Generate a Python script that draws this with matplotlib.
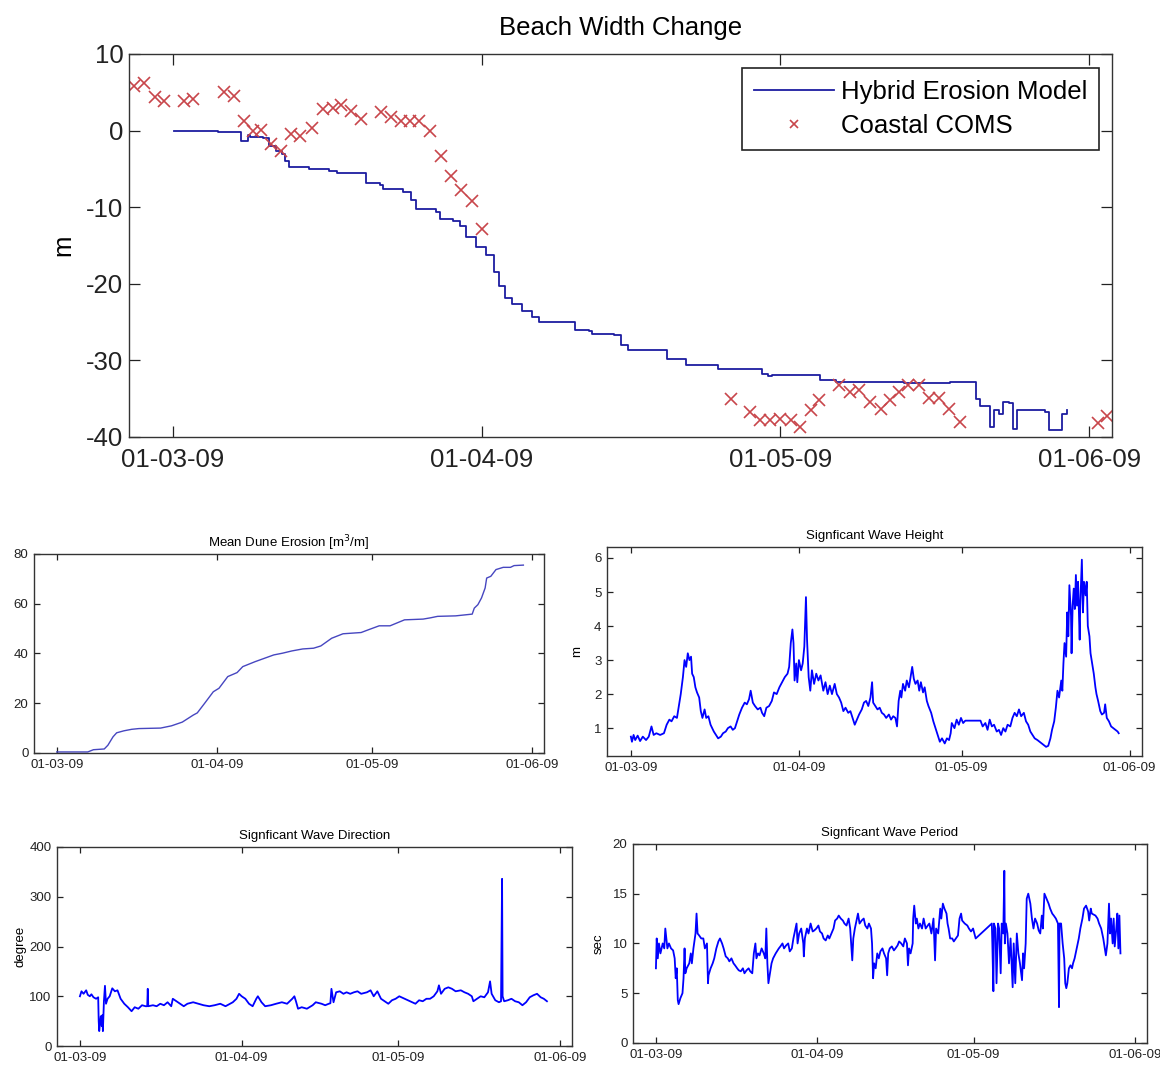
import numpy as np
import matplotlib.pyplot as plt
import matplotlib.dates as mdates
from datetime import datetime

plt.rcParams['axes.unicode_minus'] = False
plt.rcParams['font.family'] = ['Liberation Sans', 'DejaVu Sans']

# all x values are days since 01-03-09
model_day = [0.1, 4.4, 4.5, 6.4, 6.8, 7.3, 7.5, 7.8, 9.1, 9.7, 10.4, 11.0, 11.3, 11.7, 13.7,
             15.7, 16.5, 19.3, 19.4, 20.8, 21.1, 23.1, 23.9, 24.4, 26.4, 26.8, 28.1, 28.8,
             29.4, 30.4, 31.4, 32.3, 32.8, 33.4, 34.1, 35.1, 36.1, 36.8, 39.8, 40.4, 41.8,
             42.1, 44.3, 45.0, 45.7, 49.3, 49.6, 51.5, 53.7, 54.7, 58.9, 59.2, 59.8, 60.2,
             64.4, 65.0, 66.6, 73.0, 73.4, 77.4, 78.0, 80.4, 80.6, 81.0, 82.1, 82.5, 83.0,
             83.4, 84.0, 84.4, 84.6, 84.8, 87.1, 87.6, 88.0, 89.1, 89.3, 89.8]
model_width = [0, 0, -0.2, -0.2, -1.3, -1.3, -0.6, -0.9, -1.0, -2.0, -2.6, -3.0, -4.0, -4.8,
               -5.0, -5.3, -5.6, -5.6, -6.8, -7.1, -7.6, -8.0, -9.0, -10.2, -10.6, -11.5,
               -11.8, -12.5, -13.9, -15.2, -16.3, -18.5, -20.3, -21.8, -22.6, -23.6, -24.4,
               -25.0, -25.0, -26.0, -26.2, -26.5, -26.7, -28.0, -28.6, -28.6, -29.8, -30.6,
               -30.6, -31.1, -31.1, -31.8, -32.0, -31.9, -31.9, -32.6, -32.8, -32.8, -33.0,
               -33.0, -32.8, -32.8, -35.0, -35.9, -38.7, -36.5, -37.0, -35.4, -35.6, -38.9,
               -38.9, -36.5, -36.5, -36.8, -39.1, -39.1, -37.0, -36.5]

coms_day = [-3.9, -2.9, -1.8, -0.9, 1.1, 2.0, 5.1, 6.1, 7.1, 8.1, 8.9, 9.9, 10.9, 11.9, 12.8,
            14.0, 15.1, 16.1, 16.9, 17.9, 18.9, 20.9, 21.9, 22.9, 23.8, 24.7, 25.8, 26.9,
            27.9, 28.9, 30.0, 31.0, 56.0, 58.0, 59.0, 60.0, 61.0, 62.1, 63.0, 64.1, 64.9,
            66.9, 68.0, 68.9, 70.0, 71.1, 72.0, 72.9, 73.8, 74.9, 75.9, 76.9, 77.9, 79.0,
            92.9, 93.8]
coms_width = [5.8, 6.2, 4.4, 3.9, 3.9, 4.1, 5.0, 4.5, 1.3, -0.1, 0.1, -1.7, -2.7, -0.4, -0.7,
              0.3, 2.8, 2.9, 3.3, 2.6, 1.5, 2.4, 1.8, 1.3, 1.2, 1.2, 0.0, -3.3, -5.9, -7.8,
              -9.2, -12.8, -35.1, -36.7, -37.8, -37.8, -37.7, -37.8, -38.7, -36.5, -35.2,
              -33.2, -34.1, -33.9, -35.4, -36.4, -35.2, -34.1, -33.2, -33.2, -34.9, -34.9,
              -36.3, -38.0, -38.2, -37.3]

dune_day = [0.0, 6.0, 7.1, 9.2, 9.9, 10.9, 11.6, 13.0, 14.5, 15.9, 20.1, 22.2, 24.3, 26.4,
            27.2, 28.6, 30.3, 31.4, 33.1, 34.9, 36.0, 38.4, 42.0, 43.7, 45.5, 47.6, 49.7,
            51.1, 53.2, 55.4, 58.9, 60.3, 62.4, 64.5, 67.3, 70.9, 72.3, 73.7, 77.2, 80.4,
            80.8, 81.5, 82.2, 82.9, 83.2, 84.0, 85.0, 86.4, 87.8, 88.5, 90.3]
dune_vol = [0.4, 0.4, 1.3, 1.6, 3.1, 6.5, 8.1, 8.9, 9.5, 9.8, 10.0, 10.9, 12.4, 15.2, 16.1,
            19.9, 24.6, 26.0, 30.7, 32.3, 34.7, 36.7, 39.4, 40.1, 41.0, 41.8, 42.1, 43.0,
            46.1, 47.9, 48.4, 49.5, 51.1, 51.1, 53.5, 53.8, 54.3, 54.9, 55.1, 55.8, 58.2,
            59.6, 62.3, 66.3, 70.3, 71.0, 73.7, 74.6, 74.6, 75.3, 75.5]

hs_day = [0.0, 0.2, 0.5, 0.8, 1.25, 1.7, 2.2, 2.8, 3.3, 3.8, 4.2, 4.7, 5.4, 6.1, 6.6, 7.1,
          7.5, 8.0, 8.5, 8.9, 9.2, 9.6, 9.9, 10.2, 10.5, 10.8, 11.1, 11.3, 11.6, 11.9, 12.2,
          12.6, 12.9, 13.2, 13.6, 13.9, 14.3, 14.7, 15.3, 15.7, 16.1, 16.6, 17.0, 17.5,
          17.9, 18.4, 18.8, 19.2, 19.6, 20.0, 20.5, 21.0, 21.4, 21.8, 22.1, 22.5, 22.9,
          23.4, 23.9, 24.2, 24.6, 25.0, 25.5, 26.0, 26.4, 26.9, 27.4, 27.9, 28.4, 28.9,
          29.2, 29.5, 29.8, 30.0, 30.2, 30.5, 30.7, 31.0, 31.4, 31.7, 32.0, 32.3, 32.5,
          32.8, 33.1, 33.4, 33.8, 34.2, 34.6, 35.0, 35.5, 35.9, 36.3, 36.7, 37.1, 37.6,
          38.0, 38.4, 38.8, 39.2, 39.6, 40.1, 40.5, 40.9, 41.3, 41.7, 42.1, 42.6, 43.0,
          43.4, 43.8, 44.2, 44.5, 44.7, 45.1, 45.5, 45.9, 46.3, 46.7, 47.1, 47.6, 48.0,
          48.4, 48.8, 49.1, 49.4, 49.7, 49.9, 50.2, 50.6, 50.9, 51.3, 51.6, 51.9, 52.2,
          52.5, 52.9, 53.2, 53.5, 53.9, 54.2, 54.6, 54.9, 55.4, 55.8, 56.2, 56.6, 57.0,
          57.4, 57.9, 58.3, 58.7, 59.0, 59.2, 59.7, 60.1, 60.5, 60.9, 61.3, 61.7, 64.5,
          64.9, 65.4, 65.8, 66.2, 66.6, 67.0, 67.5, 67.9, 68.3, 68.7, 69.1, 69.5, 70.0,
          70.4, 70.8, 71.2, 71.6, 72.0, 72.5, 72.9, 73.3, 73.7, 74.1, 74.5, 75.0, 75.4,
          75.8, 76.2, 76.6, 77.0, 77.4, 77.7, 78.1, 78.4, 78.7, 79.0, 79.4, 79.6, 79.8,
          80.0, 80.3, 80.5, 80.7, 80.9, 81.2, 81.3, 81.5, 81.7, 81.9, 82.1, 82.3, 82.5,
          82.8, 82.9, 83.2, 83.4, 83.6, 83.9, 84.1, 84.3, 84.6, 84.8, 85.1, 85.4, 85.7,
          85.9, 86.2, 86.6, 86.9, 87.3, 87.5, 87.8, 88.2, 88.6, 89.0, 89.4, 89.8, 90.0]
hs = [0.75, 0.6, 0.8, 0.65, 0.78, 0.62, 0.75, 0.65, 0.75, 1.05, 0.8, 0.85, 0.8, 0.85, 1.1,
      1.25, 1.2, 1.35, 1.3, 1.7, 2.0, 2.5, 3.0, 2.8, 3.2, 3.0, 3.1, 2.6, 2.5, 2.2, 2.05,
      1.9, 1.5, 1.3, 1.55, 1.3, 1.35, 1.1, 0.9, 0.8, 0.7, 0.75, 0.85, 0.9, 1.0, 1.05, 0.95,
      1.0, 1.2, 1.4, 1.6, 1.75, 1.7, 1.85, 2.1, 1.75, 1.65, 1.55, 1.6, 1.45, 1.35, 1.6,
      1.65, 1.8, 2.05, 2.0, 2.2, 2.35, 2.5, 2.6, 2.8, 3.5, 3.9, 3.5, 2.4, 2.9, 2.35, 3.0,
      2.7, 2.9, 3.4, 4.85, 3.6, 2.5, 2.1, 2.7, 2.3, 2.6, 2.4, 2.55, 2.1, 2.35, 2.0, 2.25,
      2.0, 2.3, 2.0, 1.9, 1.75, 1.5, 1.6, 1.45, 1.5, 1.3, 1.1, 1.25, 1.4, 1.55, 1.75, 1.8,
      1.65, 1.9, 2.35, 1.75, 1.65, 1.55, 1.6, 1.45, 1.4, 1.3, 1.4, 1.25, 1.35, 1.3, 1.05,
      1.8, 2.1, 1.9, 2.3, 2.1, 2.4, 2.2, 2.5, 2.8, 2.45, 2.3, 2.4, 2.1, 2.35, 2.05, 2.2,
      1.8, 1.65, 1.45, 1.2, 1.0, 0.8, 0.6, 0.7, 0.55, 0.7, 0.65, 0.85, 1.15, 1.0, 1.25,
      1.1, 1.3, 1.15, 1.22, 1.22, 1.05, 1.15, 0.95, 1.25, 1.05, 1.1, 0.9, 0.95, 0.8, 1.0,
      0.9, 1.1, 1.05, 1.3, 1.45, 1.35, 1.55, 1.35, 1.45, 1.2, 1.1, 0.9, 0.8, 0.7, 0.65,
      0.6, 0.55, 0.5, 0.45, 0.48, 0.7, 0.95, 1.2, 1.6, 2.1, 1.9, 2.4, 2.1, 2.9, 3.5, 3.1,
      4.4, 3.7, 5.2, 4.3, 3.2, 4.6, 5.1, 4.5, 5.5, 4.6, 5.3, 3.6, 4.6, 5.95, 4.4, 5.3, 4.9,
      5.3, 4.0, 3.7, 3.2, 2.9, 2.6, 2.2, 2.0, 1.8, 1.5, 1.4, 1.45, 1.7, 1.3, 1.2, 1.05,
      1.0, 0.95, 0.9, 0.85]

dir_day = [0.0, 0.3, 0.7, 1.2, 1.5, 1.9, 2.2, 2.6, 3.1, 3.5, 3.6, 3.7, 4.0, 4.2, 4.3, 4.4,
           4.6, 4.8, 5.0, 5.3, 5.7, 6.2, 6.7, 7.2, 7.8, 8.5, 9.2, 9.9, 10.5, 11.2, 11.9,
           12.6, 12.9, 13.0, 13.1, 14.0, 14.7, 15.4, 16.1, 16.8, 17.5, 17.8, 18.5, 19.2,
           19.9, 20.6, 21.7, 22.7, 23.7, 24.8, 25.8, 26.9, 27.9, 29.3, 30.0, 30.5, 31.0,
           31.7, 32.4, 33.1, 33.8, 34.1, 34.8, 35.5, 36.6, 37.6, 38.7, 39.7, 40.7, 41.1,
           41.4, 41.8, 42.5, 43.5, 44.6, 45.2, 46.3, 47.0, 47.7, 48.0, 48.2, 48.6, 49.1,
           49.8, 50.5, 51.1, 51.8, 52.5, 53.2, 53.9, 55.0, 55.7, 56.3, 57.0, 57.7, 58.4,
           59.1, 59.8, 60.5, 61.2, 64.3, 65.0, 65.7, 66.4, 67.1, 67.8, 68.5, 68.8, 69.2,
           69.9, 70.6, 71.3, 72.0, 73.0, 73.7, 74.4, 75.1, 75.4, 76.1, 76.8, 77.5, 78.2,
           78.6, 78.9, 79.6, 80.3, 80.7, 80.8, 80.9, 81.0, 81.3, 82.0, 82.7, 83.4, 84.1,
           84.8, 85.5, 86.2, 86.9, 87.6, 88.3, 88.9, 89.5]
wdir = [100, 110, 105, 112, 103, 100, 104, 98, 95, 98, 50, 30, 60, 40, 62, 30, 90, 121, 85,
        95, 100, 116, 110, 112, 95, 85, 78, 70, 78, 75, 82, 80, 80, 115, 80, 82, 80, 85, 82,
        88, 80, 95, 90, 85, 80, 85, 88, 85, 82, 80, 82, 85, 80, 88, 95, 105, 100, 95, 85,
        80, 95, 100, 88, 80, 82, 85, 88, 85, 95, 100, 90, 75, 78, 75, 82, 88, 85, 82, 85,
        86, 115, 88, 108, 110, 105, 108, 105, 108, 110, 105, 108, 112, 100, 110, 95, 90,
        85, 92, 95, 100, 85, 92, 90, 95, 95, 100, 110, 122, 105, 115, 118, 115, 110, 112,
        108, 105, 100, 90, 95, 100, 98, 108, 130, 105, 92, 88, 90, 215, 336, 100, 90, 92,
        95, 90, 88, 82, 88, 98, 102, 105, 98, 95, 90]

tp_day = [0.0, 0.15, 0.36, 0.58, 0.87, 1.3, 1.6, 1.8, 2.2, 2.5, 2.9, 3.3, 3.6, 3.8, 4.0,
          4.2, 4.35, 4.7, 5.1, 5.3, 5.5, 5.65, 5.9, 6.4, 6.7, 6.9, 7.2, 7.6, 7.8, 8.0, 8.3,
          8.7, 9.1, 9.4, 9.8, 10.0, 10.1, 10.5, 10.9, 11.2, 11.6, 12.0, 12.3, 12.7, 13.0,
          13.4, 13.8, 14.1, 14.5, 14.9, 15.2, 15.6, 15.9, 16.3, 16.7, 17.0, 17.4, 17.8,
          18.1, 18.5, 18.8, 19.1, 19.3, 19.6, 19.9, 20.3, 20.7, 21.0, 21.2, 21.4, 21.6,
          21.9, 22.2, 22.5, 23.0, 23.6, 23.9, 24.3, 24.6, 25.0, 25.4, 25.7, 26.1, 26.4,
          26.8, 27.0, 27.2, 27.5, 27.9, 28.3, 28.4, 28.6, 29.0, 29.3, 29.7, 30.1, 30.4,
          30.8, 31.2, 31.5, 31.9, 32.2, 32.6, 33.0, 33.3, 33.7, 34.1, 34.4, 34.8, 35.1,
          35.5, 35.9, 36.2, 36.6, 37.0, 37.3, 37.7, 37.9, 38.2, 38.6, 38.8, 39.1, 39.5,
          39.9, 40.2, 40.6, 40.9, 41.3, 41.5, 41.7, 41.9, 42.2, 42.5, 42.8, 43.1, 43.5,
          43.8, 44.2, 44.4, 44.6, 44.9, 45.3, 45.7, 46.0, 46.4, 46.7, 47.1, 47.5, 47.8,
          48.2, 48.4, 48.6, 48.9, 49.3, 49.4, 49.6, 49.9, 50.1, 50.4, 50.7, 51.1, 51.4,
          51.8, 52.2, 52.5, 52.9, 53.3, 53.6, 53.8, 54.2, 54.6, 54.8, 55.1, 55.4, 55.8,
          56.0, 56.2, 56.5, 56.9, 57.2, 57.6, 58.0, 58.3, 58.6, 58.8, 59.3, 59.8, 60.1,
          60.5, 60.9, 61.4, 64.5, 64.6, 64.8, 64.9, 65.2, 65.4, 65.7, 65.9, 66.2, 66.4,
          66.7, 66.9, 67.0, 67.2, 67.5, 67.8, 68.1, 68.5, 68.7, 69.0, 69.3, 69.6, 69.9,
          70.3, 70.5, 70.7, 71.0, 71.2, 71.5, 71.9, 72.2, 72.5, 72.8, 73.2, 73.5, 73.8,
          74.1, 74.3, 74.6, 75.0, 75.4, 75.7, 76.1, 76.4, 76.8, 77.2, 77.4, 77.5, 77.8,
          78.1, 78.4, 78.6, 78.8, 79.0, 79.3, 79.6, 79.9, 80.1, 80.4, 80.8, 81.2, 81.5,
          81.9, 82.2, 82.6, 83.0, 83.2, 83.5, 83.7, 84.4, 84.8, 85.1, 85.5, 85.9, 86.2,
          86.4, 86.7, 87.0, 87.2, 87.4, 87.7, 87.9, 88.1, 88.4, 88.6, 88.8, 89.0, 89.2]
tp = [7.5, 10.5, 8.5, 10, 9, 10, 9.5, 11.5, 9.5, 10, 9.5, 9.3, 8.5, 6.5, 7.5, 4.3, 3.9,
      4.5, 5.0, 6.5, 9.5, 7, 7.5, 8, 9, 8, 9.5, 11, 13, 11, 10.8, 10.5, 10.5, 9.5, 10, 6,
      6.8, 7.5, 8, 8.5, 9.5, 10.2, 10.5, 10, 9.5, 8.7, 8.5, 8.2, 8.5, 8.0, 7.8, 7.5, 7.3,
      7.2, 7.5, 7.0, 7.3, 7.5, 7.2, 7.0, 9, 10, 8.5, 9, 8.8, 9.5, 9, 8.5, 11.5, 8, 6, 7,
      8, 8.5, 9.0, 9.5, 9.7, 10, 9.5, 9.8, 10, 9.2, 9.5, 10.5, 11.5, 12, 10, 11, 11.5, 10,
      8.7, 10.5, 11.5, 11, 12, 11.2, 11.3, 11.5, 11.8, 11.2, 11, 10.5, 10.3, 10.8, 10.5,
      11, 11.5, 12.3, 12.5, 12.8, 12.5, 12.3, 12, 11.8, 12.5, 11.5, 8.3, 10.5, 11.5, 12.5,
      13, 12, 12.3, 12.5, 11.8, 11.5, 12, 11.5, 10, 6.5, 8, 7.5, 9, 8.5, 9.2, 9.5, 9.0,
      8.5, 6.8, 9, 9.5, 9.7, 9.3, 9.5, 9.8, 10.2, 10, 9.7, 10.5, 10, 7.8, 9.5, 9, 10,
      12.5, 13.8, 12, 12.5, 11.5, 12, 11.5, 12.5, 11.5, 11.8, 12, 11, 12.5, 8.3, 11.5, 11,
      13.5, 12.5, 14, 13.5, 13, 12, 11.5, 10.5, 10.5, 10.2, 10.5, 10.8, 12.5, 13, 12.3,
      12, 11.8, 11.5, 11.2, 11.5, 10.5, 12, 10, 5.2, 12, 11.5, 6.0, 12, 11.5, 7, 12, 11,
      17.3, 10, 12, 11, 8, 10.5, 5.6, 10, 6, 11, 9, 8, 6.3, 9, 7.5, 10, 14.5, 15, 14,
      12.5, 11.5, 12.5, 12, 11.3, 11, 12.8, 11.5, 15, 14.5, 14, 13.5, 13, 12.8, 12.5, 12,
      3.6, 12, 12, 10, 8.5, 6, 5.5, 6, 7.5, 7.8, 7.5, 8, 8.5, 9.5, 10.5, 11.5, 12.5, 13.5,
      13.8, 13.2, 12.3, 13.5, 13, 12.8, 12.5, 12, 11.5, 10.5, 9.5, 8.8, 10, 14, 11, 12.5,
      10, 12.5, 9.7, 11.5, 13, 9.5, 12.8, 9]

tick_dates = [datetime(2009, 3, 1), datetime(2009, 4, 1), datetime(2009, 5, 1), datetime(2009, 6, 1)]

start = mdates.date2num(datetime(2009, 3, 1))


def to_num(days):
    return start + np.asarray(days, dtype=float)


def style(ax, yticks, ylim, fs, ticklen):
    ax.set_xlim(start - 4.4, start + 92 + 2.3)
    ax.set_xticks(mdates.date2num(tick_dates))
    ax.xaxis.set_major_formatter(mdates.DateFormatter('%d-%m-%y'))
    ax.set_yticks(yticks)
    ax.set_ylim(*ylim)
    ax.tick_params(direction='in', top=True, right=True, length=ticklen, width=0.9,
                   labelsize=fs, colors='#222222', pad=4)
    for s in ax.spines.values():
        s.set_color('#333333')
        s.set_linewidth(1.0)


fig = plt.figure(figsize=(11.6, 10.65), dpi=100)

big = 18.5

# top panel
ax = fig.add_axes([0.1112, 0.5897, 0.8474, 0.3596])
ax.plot(to_num(model_day), model_width, color='#1c1ca0', lw=1.3, drawstyle='steps-post',
        label='Hybrid Erosion Model')
ax.plot(to_num(coms_day), coms_width, ls='none', marker='x', ms=9, mew=1.2,
        color='#c8464b', label='Coastal COMS')
style(ax, [-40, -30, -20, -10, 0, 10], (-40, 10), big, 8)
ax.tick_params(axis='x', pad=8)
ax.set_title('Beach Width Change', fontsize=big, pad=14)
ax.set_ylabel('m', fontsize=big, labelpad=8)
leg = ax.legend(loc='upper right', bbox_to_anchor=(0.987, 0.963), borderaxespad=0,
                fancybox=False, edgecolor='#222222', framealpha=1, handlelength=3.1,
                handletextpad=0.3, borderpad=0.45, labelspacing=0.4, markerscale=0.7,
                fontsize=big)
leg.get_frame().set_linewidth(1.2)

small = 9.5

# mean dune erosion
ax = fig.add_axes([0.0293, 0.2930, 0.4397, 0.1869])
ax.plot(to_num(dune_day), dune_vol, color='#4646c0', lw=1.0)
style(ax, [0, 20, 40, 60, 80], (0, 80), small, 4)
ax.set_title('Mean Dune Erosion [m$^3$/m]', fontsize=small, pad=5)

# wave height
ax = fig.add_axes([0.5233, 0.2901, 0.4612, 0.1962])
ax.plot(to_num(hs_day), hs, color='#0000ff', lw=1.3)
style(ax, [1, 2, 3, 4, 5, 6], (0.18, 6.32), small, 4)
ax.set_title('Signficant Wave Height', fontsize=small, pad=6)
ax.set_ylabel('m', fontsize=small, labelpad=8)

# wave direction
ax = fig.add_axes([0.0491, 0.0178, 0.4440, 0.1869])
ax.plot(to_num(dir_day), wdir, color='#0000ff', lw=1.3)
style(ax, [0, 100, 200, 300, 400], (0, 400), small, 4)
ax.set_title('Signficant Wave Direction', fontsize=small, pad=6)
ax.set_ylabel('degree', fontsize=small, labelpad=2)

# wave period
ax = fig.add_axes([0.5457, 0.0207, 0.4431, 0.1869])
ax.plot(to_num(tp_day), tp, color='#0000ff', lw=1.3)
style(ax, [0, 5, 10, 15, 20], (0, 20), small, 4)
ax.set_title('Signficant Wave Period', fontsize=small, pad=6)
ax.set_ylabel('sec', fontsize=small, labelpad=6)

fig.savefig('out.png', dpi=100, facecolor='white')
